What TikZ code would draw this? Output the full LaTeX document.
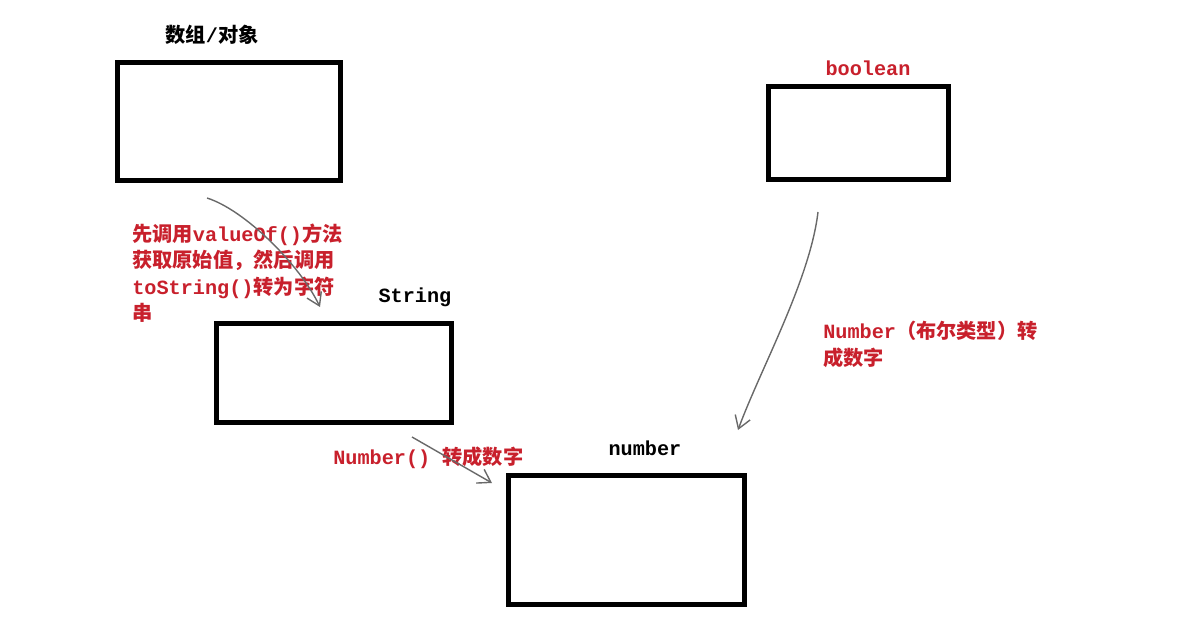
\documentclass[tikz,border=0pt]{standalone}
\usepackage{fontspec}
\usepackage{xcolor}
\usepackage{tikz}
\usetikzlibrary{arrows.meta}
\setmainfont{Liberation Mono}
\newfontfamily\cjk{Noto Sans CJK SC}
\newcommand{\zhtxt}[1]{{\cjk #1}}
\definecolor{notered}{RGB}{200,32,44}
\definecolor{pencil}{RGB}{105,105,105}
\tikzset{
  box/.style={draw, line width=2.8pt, inner sep=0pt},
  lbl/.style={font=\fontsize{11.5}{15}\selectfont\bfseries},
  note/.style={lbl, text=notered, align=left, inner sep=0pt},
  sketch/.style={draw=pencil, line width=0.8pt, -{Straight Barb[length=7pt,width=9pt]}}
}
\begin{document}
\begin{tikzpicture}
\useasboundingbox (0,0) rectangle (23.92,-12.36);
% boxes
\node[box, minimum width=4.46cm, minimum height=2.36cm] (obj) at (4.58,-2.43) {};
\node[box, minimum width=3.6cm, minimum height=1.86cm] (bool) at (17.17,-2.66) {};
\node[box, minimum width=4.7cm, minimum height=1.98cm] (str) at (6.68,-7.46) {};
\node[box, minimum width=4.72cm, minimum height=2.58cm] (num) at (12.53,-10.8) {};
% titles
\node[lbl] (objlbl) at (4.24,-0.70) {\zhtxt{数组}/\zhtxt{对象}};
\node[lbl, text=notered] (boollbl) at (17.36,-1.36) {boolean};
\node[lbl] (strlbl) at (8.3,-5.94) {String};
\node[lbl] (numlbl) at (12.9,-8.96) {number};
% notes
\node[note, anchor=north west] (objnote) at (2.64,-4.47)
  {\zhtxt{先调用}valueOf()\zhtxt{方法}\\
   \zhtxt{获取原始值，然后调用}\\
   toString()\zhtxt{转为字符}\\
   \zhtxt{串}};
\node[note, anchor=west] (strnote) at (6.66,-9.16) {Number()\ \zhtxt{转成数字}};
\node[note, anchor=north west] (boolnote) at (16.46,-6.42)
  {Number\zhtxt{（布尔类型）转}\\ \zhtxt{成数字}};
% hand drawn arrows
\coordinate (a1) at (4.14,-3.96);
\coordinate (a2) at (6.4,-6.14);
\coordinate (b1) at (8.24,-8.74);
\coordinate (b2) at (9.84,-9.66);
\coordinate (c1) at (16.36,-4.24);
\coordinate (c2) at (14.76,-8.6);
\draw[sketch] (a1) .. controls (4.9,-4.2) and (6.0,-5.3) .. (a2);
\draw[sketch] (b1) -- (b2);
\draw[sketch] (c1) .. controls (16.2,-5.6) and (15.2,-7.4) .. (c2);
\end{tikzpicture}
\end{document}
